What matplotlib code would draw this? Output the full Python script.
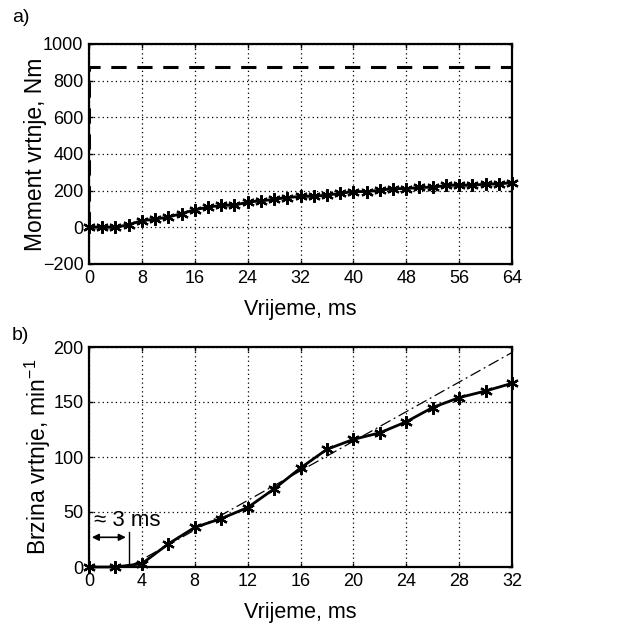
import numpy as np
import matplotlib
matplotlib.use("Agg")
from matplotlib import pyplot as plt

plt.rcParams['font.family'] = ['Liberation Sans Narrow', 'Liberation Sans', 'DejaVu Sans']
plt.rcParams['mathtext.default'] = 'regular'

# panel a) torque
t_a = list(range(0, 66, 2))
moment = [0, 0, 0, 15, 36, 45, 56, 75, 96, 110, 120, 120, 138, 144, 153, 162, 169,
          169, 176, 185, 195, 195, 202, 211, 211, 218, 218, 229, 229, 229, 236, 236, 244]
moment_ref = 872

# panel b) speed
t_b = list(range(0, 34, 2))
brzina = [0, 0, 3, 21, 36, 44, 54, 71, 90, 107, 116, 122, 132, 145, 154, 160, 167]
fit_t = [3, 32]
fit_v = [0, 195]

asterisk = (6, 2, 0)

fig = plt.figure(figsize=(6.33, 6.4), dpi=100)
ax1 = fig.add_axes([89/633, 1-264/640, (512-89)/633, 220/640])
ax2 = fig.add_axes([89/633, 1-567/640, (512-89)/633, 220/640])

for ax in (ax1, ax2):
    ax.grid(True, color='black', linestyle=(0, (1, 2.5)), linewidth=0.9)
    ax.tick_params(direction='in', length=3, labelsize=13, pad=4, width=1,
                   top=True, right=True)
    for s in ax.spines.values():
        s.set_linewidth(1.6)

ax1.plot([0, 0, 64], [0, moment_ref, moment_ref], color='black', lw=2.2, linestyle=(0, (5, 3.5)))
ax1.plot(t_a, moment, color='black', lw=2, marker=asterisk, markersize=9, mew=1.6,
         clip_on=False, zorder=5)
ax1.set_xlim(0, 64)
ax1.set_ylim(-200, 1000)
ax1.set_xticks(range(0, 65, 8))
ax1.set_yticks(range(-200, 1001, 200))
ax1.set_xlabel('Vrijeme, ms', fontsize=15.5, labelpad=9)
ax1.set_ylabel('Moment vrtnje, Nm', fontsize=16.5, labelpad=-3)

ax2.plot(fit_t, fit_v, color='black', lw=0.9, linestyle=(0, (9, 3, 1.5, 3)))
ax2.plot(t_b, brzina, color='black', lw=2, marker=asterisk, markersize=9, mew=1.6,
         clip_on=False, zorder=5)
ax2.set_xlim(0, 32)
ax2.set_ylim(0, 200)
ax2.set_xticks(range(0, 33, 4))
ax2.set_yticks(range(0, 201, 50))
ax2.set_xlabel('Vrijeme, ms', fontsize=15.5, labelpad=9)
ax2.set_ylabel('Brzina vrtnje, min$^{-1}$', fontsize=16.5, labelpad=0)

ax2.annotate('', xy=(0, 27), xytext=(3, 27),
             arrowprops=dict(arrowstyle='<|-|>', color='black', lw=1.2, mutation_scale=10))
ax2.plot([3, 3], [0, 32], color='black', lw=1)
ax2.text(0.35, 42, '≈ 3 ms', fontsize=16, ha='left', va='center')

fig.text(12/633, 1-18/640, 'a)', fontsize=14, va='center')
fig.text(12/633, 1-335/640, 'b)', fontsize=14, va='center')

fig.savefig('out.png', dpi=100)
